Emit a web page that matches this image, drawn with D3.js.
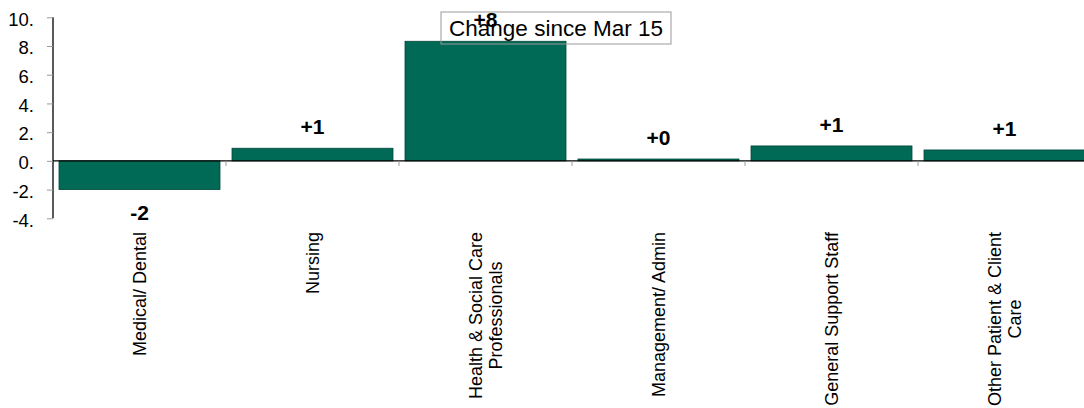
<!DOCTYPE html>
<html>
<head>
<meta charset="utf-8">
<script src="https://cdn.jsdelivr.net/npm/d3@7"></script>
<style>
  html, body { margin: 0; padding: 0; background: #fff; }
  svg { display: block; font-family: "Liberation Sans", Arial, sans-serif; }
</style>
</head>
<body>
<svg id="chart" width="1084" height="408"></svg>
<script>
// Staff groups (multi-line labels split with "\n")
const categories = [
  "Medical/ Dental",
  "Nursing",
  "Health & Social Care\nProfessionals",
  "Management/ Admin",
  "General Support Staff",
  "Other Patient & Client\nCare"
];
// Change since Mar 15
const changes = [-2.0, 0.88, 8.33, 0.13, 1.04, 0.76];
const yTicks = [10, 8, 6, 4, 2, 0, -2, -4];
const legendTitle = "Change since Mar 15";

const svg = d3.select("#chart");

const x = d3.scaleBand()
  .domain(categories)
  .range([53, 1091])
  .paddingInner(0.0694)
  .paddingOuter(0.0347);

const y = d3.scaleLinear()
  .domain([-4, 10])
  .range([218.3, 17.3]);

const step = x.step();

// Bars
svg.append("g")
  .selectAll("rect")
  .data(categories)
  .join("rect")
  .attr("x", d => x(d))
  .attr("width", x.bandwidth())
  .attr("y", (d, i) => y(Math.max(0, changes[i])))
  .attr("height", (d, i) => Math.abs(y(changes[i]) - y(0)))
  .attr("fill", "#006a56")
  .attr("stroke", "#00473a")
  .attr("stroke-width", 0.8);

// Zero line
svg.append("line")
  .attr("x1", 53).attr("x2", 1084)
  .attr("y1", y(0)).attr("y2", y(0))
  .attr("stroke", "#000").attr("stroke-width", 1.3);

// Category boundary ticks below the zero line
svg.append("g")
  .selectAll("line")
  .data(categories.slice(1))
  .join("line")
  .attr("x1", d => x(d) - step * x.paddingInner() / 2)
  .attr("x2", d => x(d) - step * x.paddingInner() / 2)
  .attr("y1", y(0)).attr("y2", y(0) + 5)
  .attr("stroke", "#999").attr("stroke-width", 1);

// Y axis
const yAxis = d3.axisLeft(y)
  .tickValues(yTicks)
  .tickFormat(d => d + ".")
  .tickSize(6)
  .tickPadding(13);

const ga = svg.append("g")
  .attr("transform", "translate(53,0)")
  .call(yAxis);
ga.select(".domain").attr("stroke", "#000").attr("stroke-width", 1.3).attr("d", `M0,${y(10)}V${y(-4)}`);
ga.selectAll(".tick line").attr("stroke", "#999");
ga.selectAll(".tick text")
  .attr("font-size", "18.5px")
  .attr("fill", "#000")
  .attr("font-family", "'Liberation Sans', Arial, sans-serif")
  .attr("dy", "0.42em");

// Legend box
const lg = svg.append("g");
lg.append("rect")
  .attr("x", 441).attr("y", 12)
  .attr("width", 230).attr("height", 32)
  .attr("fill", "none")
  .attr("stroke", "#999").attr("stroke-width", 1);
lg.append("text")
  .attr("x", 556).attr("y", 35.5)
  .attr("text-anchor", "middle")
  .attr("font-size", "22.5px")
  .attr("fill", "#000")
  .text(legendTitle);

// Value labels (plain hyphen for negatives)
const fmt = d3.formatLocale({ decimal: ".", thousands: ",", grouping: [3], currency: ["", ""], minus: "-" }).format("+.0f");
svg.append("g")
  .selectAll("text")
  .data(categories)
  .join("text")
  .attr("x", d => x(d) + x.bandwidth() / 2)
  .attr("y", (d, i) => changes[i] >= 0 ? y(changes[i]) - 14 : y(changes[i]) + 30.7)
  .attr("text-anchor", "middle")
  .attr("font-size", "21px")
  .attr("font-weight", "bold")
  .attr("fill", "#000")
  .text((d, i) => fmt(changes[i]));

// Rotated category labels
const labelTop = 232;
const lineH = 20.5;
categories.forEach(c => {
  const lines = c.split("\n");
  const cx = x(c) + x.bandwidth() / 2;
  const t = svg.append("text")
    .attr("font-size", "18px")
    .attr("fill", "#000")
    .attr("text-anchor", "middle");
  lines.forEach((ln, j) => {
    t.append("tspan")
      .attr("x", 0)
      .attr("y", (j - (lines.length - 1) / 2) * lineH)
      .attr("dy", "0.35em")
      .text(ln);
  });
  let maxLen = 0;
  t.selectAll("tspan").each(function () {
    maxLen = Math.max(maxLen, this.getComputedTextLength());
  });
  t.attr("transform", `translate(${cx},${labelTop + maxLen / 2}) rotate(-90)`);
});
</script>
</body>
</html>
